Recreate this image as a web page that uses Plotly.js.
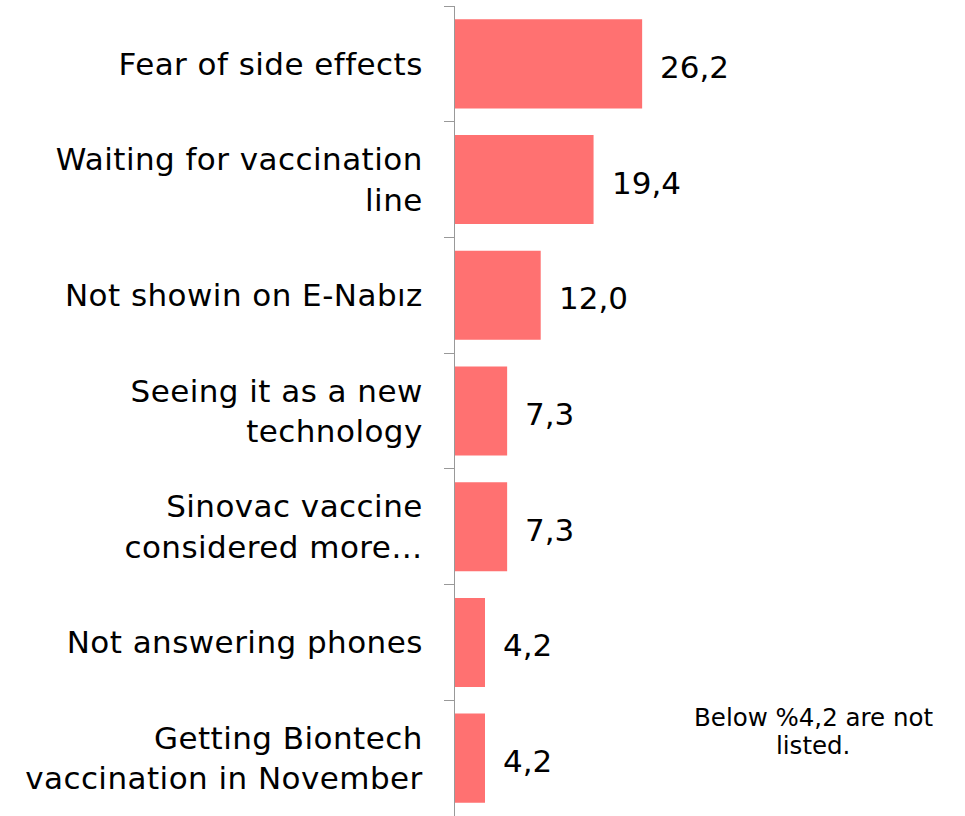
<!DOCTYPE html>
<html><head><meta charset="utf-8">
<script src="https://cdn.plot.ly/plotly-3.0.1.min.js"></script>
<style>body{margin:0;background:#fff}#c{width:965px;height:816px}
#c .ytick text{letter-spacing:0.45px}</style>
</head><body><div id="c"></div>
<script>
const categories = [
  "Fear of side effects",
  "Waiting for vaccination<br>line",
  "Not showin on E-Nabız",
  "Seeing it as a new<br>technology",
  "Sinovac vaccine<br>considered more…",
  "Not answering phones",
  "Getting Biontech<br>vaccination in November"
];
const values = [26.2, 19.4, 12.0, 7.3, 7.3, 4.2, 4.2];
const noteLines = ["Below %4,2 are not", "listed."];

const fmt = v => v.toFixed(1).replace('.', ',');
const font = "DejaVu Sans, Verdana, sans-serif";

const trace = {
  type: 'bar', orientation: 'h',
  x: values, y: categories,
  marker: {color: '#FF7171'},
  hoverinfo: 'none'
};
const annotations = values.map((v, i) => ({
  x: v, y: categories[i], xref: 'x', yref: 'y',
  text: fmt(v), showarrow: false, xanchor: 'left', xshift: 16, yshift: -3,
  font: {family: font, size: 31, color: '#000'}
}));
const noteY = [0.122, 0.087];
noteLines.forEach((t, i) => annotations.push({
  xref: 'paper', yref: 'paper', x: 0.716, y: noteY[i],
  text: t, showarrow: false, xanchor: 'center', yanchor: 'middle',
  font: {family: font, size: 24.5, color: '#000'}
}));
const layout = {
  width: 965, height: 816,
  margin: {l: 455, r: 10, t: 6, b: 0},
  paper_bgcolor: '#fff', plot_bgcolor: '#fff',
  bargap: 0.23,
  showlegend: false,
  xaxis: {range: [0, 70], visible: false, fixedrange: true},
  yaxis: {
    autorange: 'reversed', type: 'category',
    showline: true, linecolor: '#999', linewidth: 1,
    ticks: 'outside', ticklen: 10, tickcolor: '#999', tickson: 'boundaries',
    showgrid: false, zeroline: false, automargin: false,
    ticklabelstandoff: 25,
    tickfont: {family: font, size: 31, color: '#000'}
  },
  annotations: annotations
};
Plotly.newPlot('c', [trace], layout, {staticPlot: true});
</script></body></html>
